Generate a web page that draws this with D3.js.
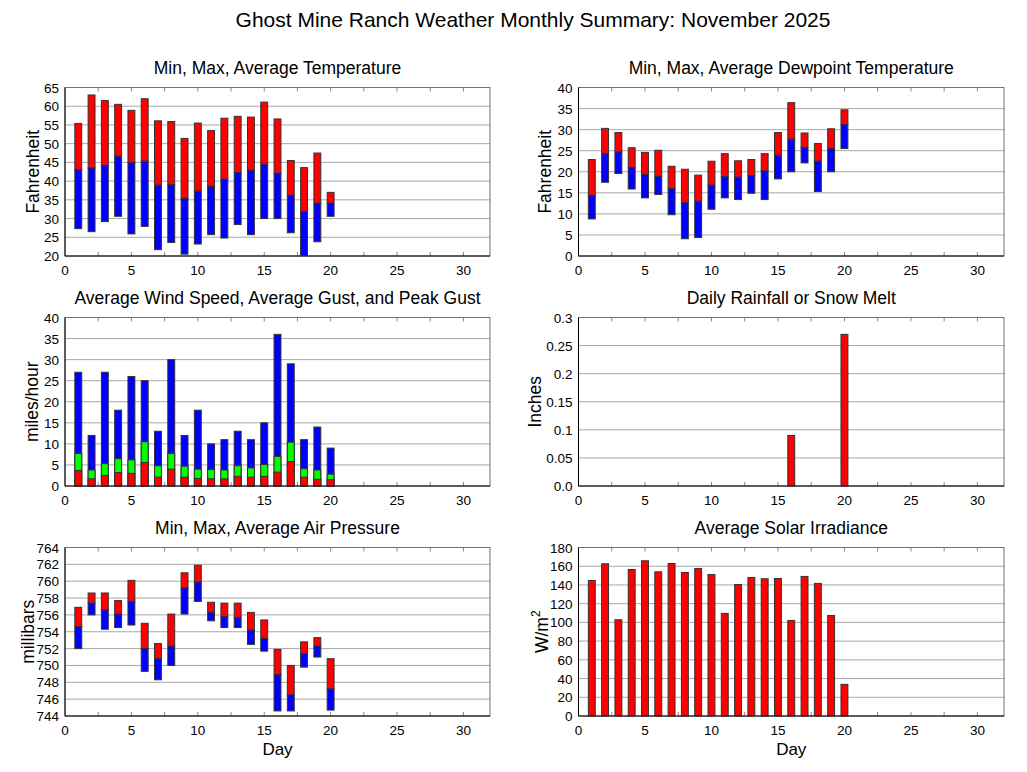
<!DOCTYPE html>
<html>
<head>
<meta charset="utf-8">
<script src="https://cdn.jsdelivr.net/npm/d3@7"></script>
<style>
  body { margin: 0; background: #fff; }
  text { font-family: "Liberation Sans", Arial, sans-serif; fill: #000; }
</style>
</head>
<body>
<div class="canvas"></div>
<script>
// daily values, November 2025 (days 1-20)
const days = d3.range(1, 21);

const tempMax = [55.4, 63.0, 61.5, 60.5, 58.9, 62.0, 56.1, 55.9, 51.4, 55.5, 53.5, 56.8, 57.3, 57.1, 61.1, 56.6, 45.5, 43.6, 47.5, 37.0];
const tempAvg = [43.1, 43.5, 44.2, 46.6, 45.0, 45.3, 38.9, 39.1, 35.4, 37.3, 38.6, 40.5, 42.3, 42.9, 44.5, 42.1, 36.2, 31.9, 34.1, 34.1];
const tempMin = [27.3, 26.5, 29.2, 30.6, 25.9, 27.9, 21.7, 23.6, 20.5, 23.2, 25.7, 24.8, 28.4, 25.7, 30.0, 30.0, 26.2, 20.1, 23.8, 30.6];

const dewMax = [22.9, 30.3, 29.3, 25.7, 24.6, 25.1, 21.3, 20.6, 19.2, 22.5, 24.3, 22.6, 22.9, 24.3, 29.3, 36.4, 29.2, 26.7, 30.2, 34.7];
const dewAvg = [14.4, 24.3, 24.7, 21.0, 19.4, 18.9, 16.0, 12.7, 13.0, 16.8, 18.8, 18.7, 19.1, 20.2, 23.9, 27.7, 25.8, 22.5, 25.5, 31.2];
const dewMin = [8.8, 17.5, 19.6, 15.9, 13.8, 14.6, 9.8, 4.1, 4.4, 11.1, 13.8, 13.4, 14.9, 13.4, 18.3, 20.0, 22.1, 15.3, 20.0, 25.5];

const windPeak = [27, 12, 27, 18, 26, 25, 13, 30, 12, 18, 10, 11, 13, 11, 15, 36, 29, 11, 14, 9];
const windGust = [7.7, 3.8, 5.3, 6.5, 6.2, 10.5, 4.8, 7.7, 4.7, 4.0, 3.9, 3.8, 4.8, 4.3, 5.1, 7.0, 10.4, 4.1, 3.8, 2.8];
const windAvg = [3.7, 1.7, 2.5, 3.2, 3.0, 5.6, 2.1, 4.0, 2.1, 1.8, 1.7, 1.7, 2.3, 2.1, 2.3, 3.3, 5.8, 2.1, 1.6, 1.5];

const rain = [0, 0, 0, 0, 0, 0, 0, 0, 0, 0, 0, 0, 0, 0, 0, 0.09, 0, 0, 0, 0.27];

const presMax = [756.9, 758.6, 758.6, 757.7, 760.1, 755.0, 752.6, 756.1, 761.0, 761.9, 757.5, 757.4, 757.4, 756.3, 755.4, 751.9, 750.0, 752.8, 753.3, 750.8];
const presAvg = [754.6, 757.4, 756.6, 756.1, 757.6, 752.0, 750.8, 752.3, 759.2, 759.9, 756.3, 755.8, 755.7, 754.2, 753.2, 748.9, 746.5, 751.4, 752.3, 747.2];
const presMin = [752.0, 756.0, 754.3, 754.5, 754.8, 749.3, 748.3, 750.0, 756.1, 757.6, 755.3, 754.5, 754.5, 752.5, 751.7, 744.6, 744.6, 749.8, 751.0, 744.7];

const solar = [144.8, 162.6, 102.8, 156.5, 165.8, 154.0, 162.9, 153.3, 157.6, 151.2, 109.6, 140.5, 148.0, 146.6, 146.9, 102.1, 149.1, 141.6, 107.4, 33.8];

const xTicks = [0, 5, 10, 15, 20, 25, 30];

const width = 1027, height = 772;

const svg = d3.select('.canvas')
  .append('svg')
  .attr('width', width)
  .attr('height', height);

svg.append('text')
  .attr('x', 533).attr('y', 27)
  .attr('text-anchor', 'middle')
  .style('font-size', '21px')
  .text('Ghost Mine Ranch Weather Monthly Summary: November 2025');

const cols = [{left: 65, right: 490}, {left: 578.5, right: 1004}];
const rows = [{top: 87.5, bottom: 256}, {top: 317.5, bottom: 486}, {top: 547.5, bottom: 716}];

// draws the frame, grid, ticks, labels of one panel; returns scales + group
const panel = (col, row, opts) => {
  const c = cols[col], r = rows[row];
  const x = d3.scaleLinear().domain([0, 32]).range([c.left, c.right]);
  const y = d3.scaleLinear().domain(opts.domain).range([r.bottom, r.top]);
  const g = svg.append('g');

  // title
  g.append('text')
    .attr('x', (c.left + c.right) / 2).attr('y', r.top - 14)
    .attr('text-anchor', 'middle')
    .style('font-size', '17.5px')
    .text(opts.title);

  // horizontal grid
  g.selectAll('line.grid')
    .data(opts.ticks.slice(1, -1))
    .enter().append('line')
    .attr('class', 'grid')
    .attr('x1', c.left).attr('x2', c.right)
    .attr('y1', d => y(d)).attr('y2', d => y(d))
    .attr('stroke', '#a8a8a8').attr('stroke-width', 1);

  // minor x ticks at every 2.5 days, top and bottom, pointing inward
  const minor = d3.range(2.5, 32, 2.5);
  g.selectAll('line.tb')
    .data(minor)
    .enter().append('line')
    .attr('x1', d => x(d)).attr('x2', d => x(d))
    .attr('y1', r.bottom).attr('y2', r.bottom - 4)
    .attr('stroke', '#888');
  g.selectAll('line.tt')
    .data(minor)
    .enter().append('line')
    .attr('x1', d => x(d)).attr('x2', d => x(d))
    .attr('y1', r.top).attr('y2', r.top + 4)
    .attr('stroke', '#888');

  // y tick labels
  g.selectAll('text.yl')
    .data(opts.ticks)
    .enter().append('text')
    .attr('x', c.left - 6).attr('y', d => y(d) + 5)
    .attr('text-anchor', 'end')
    .style('font-size', '13.5px')
    .text(opts.fmt || (d => d));

  // x tick labels
  g.selectAll('text.xl')
    .data(xTicks)
    .enter().append('text')
    .attr('x', d => x(d)).attr('y', r.bottom + 19)
    .attr('text-anchor', 'middle')
    .style('font-size', '13.5px')
    .text(d => d);

  // y axis label
  const yl = g.append('text')
    .attr('transform', `translate(${c.left - opts.lOff},${(r.top + r.bottom) / 2}) rotate(-90)`)
    .attr('text-anchor', 'middle')
    .style('font-size', '17.5px');
  if (opts.sup) {
    yl.append('tspan').text(opts.ylabel);
    yl.append('tspan').attr('dy', -8).style('font-size', '12px').text(opts.sup);
  } else {
    yl.text(opts.ylabel);
  }

  if (row === 2) {
    g.append('text')
      .attr('x', (c.left + c.right) / 2).attr('y', r.bottom + 39)
      .attr('text-anchor', 'middle')
      .style('font-size', '17px')
      .text('Day');
  }

  const bars = svg.append('g');

  // frame drawn last so it sits above bars
  const frame = svg.append('g');
  frame.append('rect')
    .attr('x', c.left).attr('y', r.top)
    .attr('width', c.right - c.left).attr('height', r.bottom - r.top)
    .attr('fill', 'none').attr('stroke', '#707070');
  frame.append('line')
    .attr('x1', c.left).attr('x2', c.left)
    .attr('y1', r.top).attr('y2', r.bottom)
    .attr('stroke', '#000');
  frame.append('line')
    .attr('x1', c.left).attr('x2', c.right)
    .attr('y1', r.bottom).attr('y2', r.bottom)
    .attr('stroke', '#000');

  return {x, y, g: bars};
};

const bw = 0.52; // bar width in days

const drawBars = (p, lo, hi, colour) => {
  p.g.selectAll(null)
    .data(days.map((d, i) => ({d, lo: lo[i], hi: hi[i]})).filter(e => e.hi > e.lo))
    .enter().append('rect')
    .attr('x', e => p.x(e.d - bw / 2))
    .attr('width', p.x(bw) - p.x(0))
    .attr('y', e => p.y(e.hi))
    .attr('height', e => p.y(e.lo) - p.y(e.hi))
    .attr('fill', colour)
    .attr('stroke', '#333')
    .attr('stroke-width', 1);
};

const zeros = days.map(() => 0);

// temperature
const p1 = panel(0, 0, {title: 'Min, Max, Average Temperature', domain: [20, 65],
  ticks: d3.range(20, 66, 5), ylabel: 'Fahrenheit', lOff: 26});
drawBars(p1, tempAvg, tempMax, '#ff0000');
drawBars(p1, tempMin, tempAvg, '#0000ff');

// dewpoint
const p2 = panel(1, 0, {title: 'Min, Max, Average Dewpoint Temperature', domain: [0, 40],
  ticks: d3.range(0, 41, 5), ylabel: 'Fahrenheit', lOff: 27.5});
drawBars(p2, dewAvg, dewMax, '#ff0000');
drawBars(p2, dewMin, dewAvg, '#0000ff');

// wind
const p3 = panel(0, 1, {title: 'Average Wind Speed, Average Gust, and Peak Gust', domain: [0, 40],
  ticks: d3.range(0, 41, 5), ylabel: 'miles/hour', lOff: 27});
drawBars(p3, zeros, windPeak, '#0000ff');
drawBars(p3, zeros, windGust, '#00ff00');
drawBars(p3, zeros, windAvg, '#ff0000');

// rain
const p4 = panel(1, 1, {title: 'Daily Rainfall or Snow Melt', domain: [0, 0.3],
  ticks: [0, 0.05, 0.1, 0.15, 0.2, 0.25, 0.3], ylabel: 'Inches', lOff: 38,
  fmt: d => d === 0 ? '0.0' : String(+d.toFixed(2))});
drawBars(p4, zeros, rain, '#ff0000');

// pressure
const p5 = panel(0, 2, {title: 'Min, Max, Average Air Pressure', domain: [744, 764],
  ticks: d3.range(744, 765, 2), ylabel: 'millibars', lOff: 31});
drawBars(p5, presAvg, presMax, '#ff0000');
drawBars(p5, presMin, presAvg, '#0000ff');

// solar
const p6 = panel(1, 2, {title: 'Average Solar Irradiance', domain: [0, 180],
  ticks: d3.range(0, 181, 20), ylabel: 'W/m', sup: '2', lOff: 31});
drawBars(p6, zeros, solar, '#ff0000');
</script>
</body>
</html>
